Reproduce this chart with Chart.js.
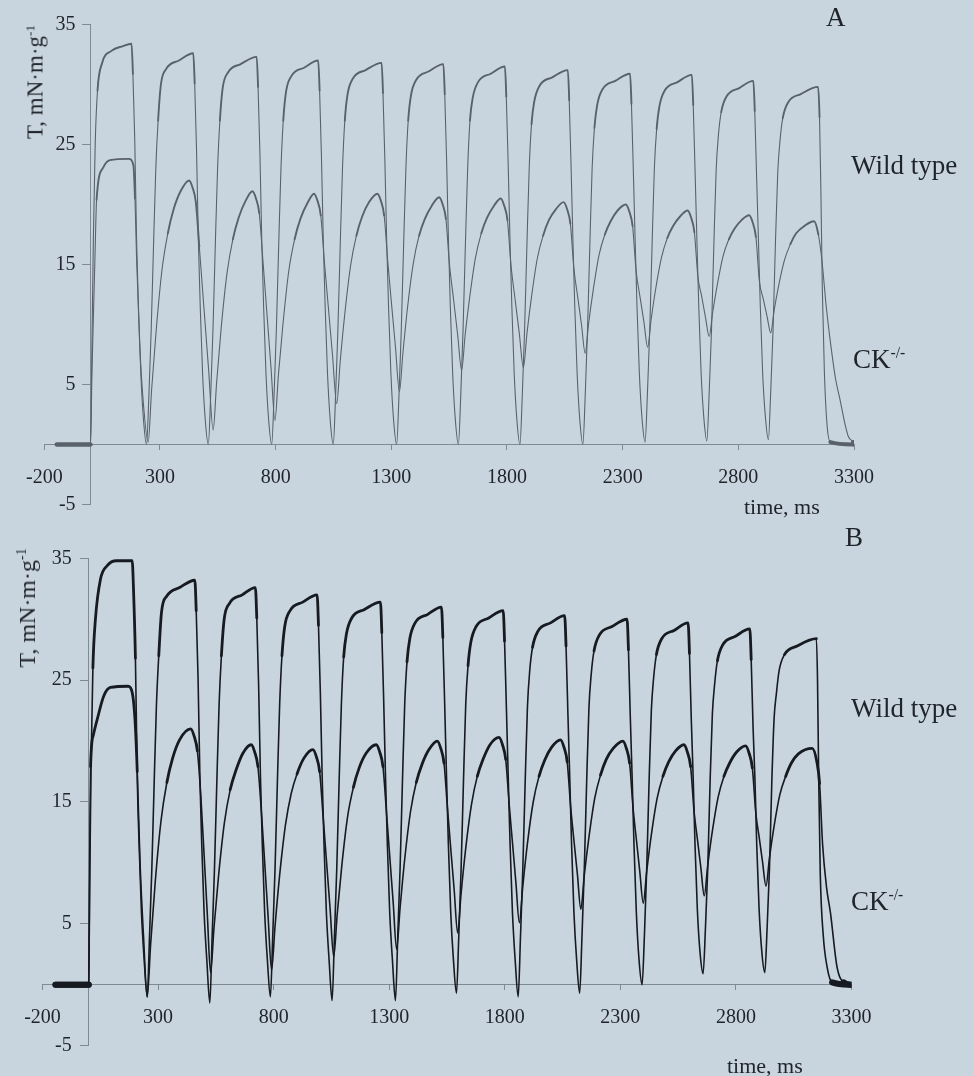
<!DOCTYPE html>
<html>
<head>
<meta charset="utf-8">
<script src="https://cdn.jsdelivr.net/npm/chart.js@4.4.1/dist/chart.umd.min.js"></script>
<style>
  html, body { margin: 0; padding: 0; background: #c9d5de; }
  #page { position: relative; width: 973px; height: 1076px; overflow: hidden; background: #c9d5de;
          font-family: 'Liberation Serif', 'Times New Roman', serif; color: #1f232a; }
  canvas { position: absolute; left: 0; }
  .lbl { position: absolute; white-space: nowrap; line-height: 1; }
  .big { font-size: 27px; }
  .sup { font-size: 0.58em; position: relative; top: -0.62em; }
  .axisT { font-size: 22px; }
</style>
</head>
<body>
<div id="page">
  <canvas id="panelA" width="973" height="530" style="top:0px"></canvas>
  <canvas id="panelB" width="973" height="546" style="top:530px"></canvas>

  <div class="lbl big" style="left:826px; top:4px;">A</div>
  <div class="lbl big" style="left:851px; top:152px;">Wild type</div>
  <div class="lbl big" style="left:853px; top:346px;">CK<span class="sup">-/-</span></div>
  <div class="lbl axisT" style="left:744px; top:496px;">time, ms</div>
  <div class="lbl" style="left:35px; top:82px; font-size:23px; transform: translate(-50%,-50%) rotate(-90deg);">T, mN·m·g<span class="sup">-1</span></div>

  <div class="lbl big" style="left:845px; top:524px;">B</div>
  <div class="lbl big" style="left:851px; top:695px;">Wild type</div>
  <div class="lbl big" style="left:851px; top:888px;">CK<span class="sup">-/-</span></div>
  <div class="lbl axisT" style="left:727px; top:1055px;">time, ms</div>
  <div class="lbl" style="left:27px; top:608px; font-size:24px; transform: translate(-50%,-50%) rotate(-90deg);">T, mN·m·g<span class="sup">-1</span></div>
</div>

<script>
// Axis ticks shared by both panels
const timeTicks = [-200, 300, 800, 1300, 1800, 2300, 2800, 3300];
const tensionTicks = [-5, 5, 15, 25, 35];

// Panel A — [time (ms), tension (mN·m·g⁻¹)]
const wildTypeA = [
  [-147,0],[0,0],
  [5,7],[12,17],[20,25],[30,29.5],[50,31.8],[90,32.8],[140,33.2],[177,33.4],
  [183,30.9],[191,25.4],[199,17],[207,11.5],[217,6],[229,2],[242,0],
  [252,4],[262,9.5],[272,16.5],[282,23],[292,27],[304,30.0],[327,31.3],[382,32.0],[444,32.6],
  [450,30.1],[458,24.6],[466,17],[474,11.5],[484,6],[496,2],[509,0],
  [519,4],[529,9.5],[539,16.5],[549,23],[559,27],[571,29.7],[594,31.0],[649,31.7],[718,32.3],
  [724,29.8],[732,24.3],[740,17],[748,11.5],[758,6],[770,2],[783,0],
  [793,4],[803,9.5],[813,16.5],[823,23],[833,27],[845,29.4],[868,30.7],[923,31.4],[984,32.0],
  [990,29.5],[998,24],[1006,17],[1014,11.5],[1024,6],[1036,2],[1049,0],
  [1059,4],[1069,9.5],[1079,16.5],[1089,23],[1099,27],[1111,29.2],[1134,30.5],[1189,31.2],[1258,31.8],
  [1264,29.3],[1272,23.8],[1280,17],[1288,11.5],[1298,6],[1310,2],[1323,0],
  [1333,4],[1343,9.5],[1353,16.5],[1363,23],[1373,27],[1385,29.1],[1408,30.4],[1463,31.1],[1525,31.7],
  [1531,29.2],[1539,23.7],[1547,17],[1555,11.5],[1565,6],[1577,2],[1590,0],
  [1600,4],[1610,9.5],[1620,16.5],[1630,23],[1640,27],[1652,28.9],[1675,30.2],[1730,30.9],[1791,31.5],
  [1797,29.0],[1805,23.5],[1813,17],[1821,11.5],[1831,6],[1843,2],[1856,0],
  [1866,4],[1876,9.5],[1886,16.5],[1896,23],[1906,26.7],[1918,28.6],[1941,29.9],[1996,30.6],[2063,31.2],
  [2069,28.7],[2077,23.2],[2085,17],[2093,11.5],[2103,6],[2115,2],[2128,0],
  [2138,4],[2148,9.5],[2158,16.5],[2168,23],[2178,26.4],[2190,28.3],[2213,29.6],[2268,30.3],[2332,30.9],
  [2338,28.4],[2346,22.9],[2354,17],[2362,11.5],[2372,6],[2384,2.1],[2397,0.2],
  [2407,4.2],[2417,9.5],[2427,16.5],[2437,23],[2447,26.3],[2459,28.2],[2482,29.5],[2537,30.2],[2599,30.8],
  [2605,28.3],[2613,22.8],[2621,17],[2629,11.5],[2639,6],[2651,2.2],[2664,0.3],
  [2674,4.3],[2684,9.5],[2694,16.5],[2704,22.8],[2714,25.8],[2726,27.7],[2749,29.0],[2804,29.7],[2865,30.3],
  [2871,27.8],[2879,22.3],[2887,17],[2895,11.5],[2905,6],[2917,2.3],[2930,0.4],
  [2940,4.4],[2950,9.5],[2960,16.5],[2970,22.5],[2980,25.3],[2992,27.2],[3015,28.5],[3070,29.2],[3145,29.8],
  [3151,27.3],[3157,21],[3163,13],[3172,6],[3184,1.5],[3198,0.2],[3300,0]
];

const knockoutA = [
  [-147,0],[0,0],
  [6,6],[12,10.5],[19,15.6],[26,20.4],[55,23.1],[84,23.7],[165,23.8],
  [185,23.3],[192,20.5],[199,15.4],[212,8.5],[228,3.5],[249,0.2],
  [264,4.6],[284,9.6],[309,14.6],[334,17.6],[359,19.6],[389,21.1],[426,22.0],
  [441,21.4],[455,20.2],[470,16.5],[490,11.4],[510,6.3],[530,1.2],
  [545,5.2],[565,9.8],[590,14.3],[615,17.1],[640,18.9],[670,20.3],[700,21.1],
  [715,20.5],[729,19.3],[744,15.6],[762,11.0],[780,6.4],[797,2.0],
  [812,5.8],[832,10.1],[857,14.5],[882,17.1],[907,18.8],[937,20.1],[966,20.9],
  [981,20.3],[995,19.1],[1010,15.4],[1028,11.4],[1046,7.4],[1064,3.4],
  [1079,6.9],[1099,10.9],[1124,14.9],[1149,17.4],[1174,19.0],[1204,20.2],[1240,20.9],
  [1255,20.3],[1269,19.1],[1284,15.4],[1301,11.7],[1318,8.1],[1335,4.4],
  [1350,7.6],[1370,11.4],[1395,15.1],[1420,17.4],[1445,18.8],[1475,19.9],[1507,20.6],
  [1522,20.0],[1536,18.8],[1551,15.1],[1569,12.1],[1587,9.1],[1604,6.2],
  [1619,9.1],[1639,12.3],[1664,15.6],[1689,17.6],[1714,18.9],[1744,19.9],[1773,20.5],
  [1788,19.9],[1802,18.7],[1817,15.0],[1835,12.1],[1853,9.3],[1871,6.4],
  [1886,9.2],[1906,12.3],[1931,15.5],[1956,17.4],[1981,18.7],[2011,19.6],[2045,20.2],
  [2060,19.6],[2074,18.4],[2089,14.7],[2105,12.4],[2122,10.0],[2138,7.6],
  [2153,10.1],[2173,12.9],[2198,15.8],[2223,17.5],[2248,18.6],[2278,19.5],[2314,20.0],
  [2329,19.4],[2343,18.2],[2358,14.5],[2375,12.3],[2392,10.2],[2408,8.1],
  [2423,10.4],[2443,13.0],[2468,15.6],[2493,17.2],[2518,18.2],[2548,19.0],[2581,19.5],
  [2596,18.9],[2610,17.7],[2625,14.0],[2641,12.4],[2658,10.6],[2674,9.0],
  [2689,11.0],[2709,13.3],[2734,15.7],[2759,17.1],[2784,18.0],[2814,18.7],[2847,19.1],
  [2862,18.5],[2876,17.3],[2891,13.6],[2907,12.2],[2924,10.7],[2940,9.3],
  [2955,11.2],[2975,13.3],[3000,15.4],[3025,16.7],[3050,17.6],[3085,18.2],[3127,18.6],
  [3146,17.5],[3161,15.4],[3180,11.5],[3197,8.7],[3220,5.5],[3240,3.7],[3260,1.8],[3276,0.65],[3296,0.2],[3300,0]
];

// Panel B — [time (ms), tension (mN·m·g⁻¹)]
const wildTypeB = [
  [-144,0],[0,0],
  [4,8],[10,18],[18,26],[29,30],[51,33.3],[80,34.4],[120,34.8],[188,34.8],
  [194,32.3],[202,26.8],[210,17],[218,11.5],[228,6],[240,2],[253,-1.0],
  [263,4],[273,9.5],[283,16.5],[293,23],[303,27],[315,30.6],[338,31.9],[393,32.6],[459,33.2],
  [465,30.7],[473,25.2],[481,17],[489,11.5],[499,6],[511,2],[524,-1.5],
  [534,4],[544,9.5],[554,16.5],[564,23],[574,27],[586,30.0],[609,31.3],[664,32.0],[721,32.6],
  [727,30.1],[735,24.6],[743,17],[751,11.5],[761,6],[773,2],[786,-1.0],
  [796,4],[806,9.5],[816,16.5],[826,23],[836,27],[848,29.4],[871,30.7],[926,31.4],[988,32.0],
  [994,29.5],[1002,24],[1010,17],[1018,11.5],[1028,6],[1040,2],[1053,-1.3],
  [1063,4],[1073,9.5],[1083,16.5],[1093,23],[1103,26.9],[1115,28.8],[1138,30.1],[1193,30.8],[1262,31.4],
  [1268,28.9],[1276,23.4],[1284,17],[1292,11.5],[1302,6],[1314,2],[1327,-1.3],
  [1337,4],[1347,9.5],[1357,16.5],[1367,23],[1377,26.5],[1389,28.4],[1412,29.7],[1467,30.4],[1526,31.0],
  [1532,28.5],[1540,23],[1548,17],[1556,11.5],[1566,6],[1578,2],[1591,-0.7],
  [1601,4],[1611,9.5],[1621,16.5],[1631,23],[1641,26.2],[1653,28.1],[1676,29.4],[1731,30.1],[1793,30.7],
  [1799,28.2],[1807,22.7],[1815,17],[1823,11.5],[1833,6],[1845,2],[1858,-1.0],
  [1868,4],[1878,9.5],[1888,16.5],[1898,22.8],[1908,25.8],[1920,27.7],[1943,29.0],[1998,29.7],[2059,30.3],
  [2065,27.8],[2073,22.3],[2081,17],[2089,11.5],[2099,6],[2111,2],[2124,-0.7],
  [2134,4],[2144,9.5],[2154,16.5],[2164,22.7],[2174,25.5],[2186,27.4],[2209,28.7],[2264,29.4],[2329,30.0],
  [2335,27.5],[2343,22],[2351,17],[2359,11.5],[2369,6],[2381,2],[2394,0],
  [2404,4],[2414,9.5],[2424,16.5],[2434,22.5],[2444,25.2],[2456,27.1],[2479,28.4],[2534,29.1],[2593,29.7],
  [2599,27.2],[2607,21.7],[2615,17],[2623,11.5],[2633,6.2],[2645,2.6],[2658,0.9],
  [2668,4.6],[2678,9.5],[2688,16.5],[2698,22.2],[2708,24.7],[2720,26.6],[2743,27.9],[2798,28.6],[2860,29.2],
  [2866,26.7],[2874,21.2],[2882,17],[2890,11.5],[2900,6.3],[2912,2.7],[2925,1.0],
  [2935,4.7],[2945,9.5],[2955,16.5],[2965,21.8],[2975,23.9],[2987,25.8],[3010,27.1],[3065,27.8],[3148,28.4],
  [3153,25],[3158,17],[3165,9],[3178,4],[3194,1.5],[3216,0.2],[3300,0]
];

const knockoutB = [
  [-144,0],[0,0],
  [4,10],[8,17.9],[20,20.5],[37,21.8],[65,23.7],[94,24.4],[170,24.5],
  [188,24.0],[200,21.8],[210,17.5],[222,10],[237,4],[253,-1.0],
  [268,3.4],[288,8.5],[313,13.5],[338,16.6],[363,18.6],[393,20.1],[441,21.0],
  [456,20.4],[470,19.2],[485,15.5],[499,10.7],[513,5.8],[527,1.0],
  [542,4.7],[562,9.0],[587,13.3],[612,16.0],[637,17.6],[667,19.0],[703,19.7],
  [718,19.1],[732,17.9],[747,14.2],[762,9.8],[776,5.6],[791,1.2],
  [806,4.8],[826,9.0],[851,13.1],[876,15.7],[901,17.3],[931,18.6],[970,19.3],
  [985,18.7],[999,17.5],[1014,13.8],[1029,10.05],[1044,6.3],[1060,2.3],
  [1075,5.8],[1095,9.8],[1120,13.8],[1145,16.2],[1170,17.8],[1200,19.0],[1244,19.7],
  [1259,19.1],[1273,17.9],[1288,14.2],[1303,10.35],[1317,6.8],[1332,2.9],
  [1347,6.3],[1367,10.3],[1392,14.2],[1417,16.6],[1442,18.1],[1472,19.3],[1508,20.0],
  [1523,19.4],[1537,18.2],[1552,14.5],[1567,11.0],[1581,7.8],[1596,4.25],
  [1611,7.5],[1631,11.2],[1656,14.8],[1681,17.1],[1706,18.5],[1736,19.7],[1775,20.3],
  [1790,19.7],[1804,18.5],[1819,14.8],[1834,11.5],[1848,8.4],[1863,5.1],
  [1878,8.1],[1898,11.6],[1923,15.0],[1948,17.1],[1973,18.45],[2003,19.5],[2041,20.1],
  [2056,19.5],[2070,18.3],[2085,14.6],[2100,11.7],[2114,9.1],[2129,6.2],
  [2144,9.0],[2164,12.1],[2189,15.3],[2214,17.2],[2239,18.5],[2269,19.4],[2311,20.0],
  [2326,19.4],[2340,18.2],[2355,14.5],[2370,11.8],[2384,9.3],[2399,6.7],
  [2414,9.3],[2434,12.3],[2459,15.3],[2484,17.1],[2509,18.3],[2539,19.2],[2575,19.7],
  [2590,19.1],[2604,17.9],[2619,14.2],[2634,11.85],[2648,9.65],[2663,7.3],
  [2678,9.8],[2698,12.6],[2723,15.4],[2748,17.1],[2773,18.2],[2803,19.1],[2842,19.6],
  [2857,19.0],[2871,17.8],[2886,14.1],[2901,12.05],[2915,10.1],[2930,8.1],
  [2945,10.4],[2965,13.0],[2990,15.6],[3015,17.1],[3040,18.2],[3070,18.95],[3130,19.4],
  [3150,18.3],[3162,16.5],[3175,11.5],[3192,8],[3209,5.9],[3237,1.5],[3266,0.2],[3300,0]
];

const FONT = "'Liberation Serif', 'Times New Roman', serif";
const TEXT_COLOR = '#1f232a';

function toPoints(pairs) {
  return pairs.map(([x, y]) => ({ x, y }));
}

// The y axis sits at t = 0; its labels are moved left of the tick marks.
const yLabelShift = {
  id: 'yLabelShift',
  beforeDraw(chart) {
    const scale = chart.scales.y;
    const items = scale.getLabelItems();
    if (items._shifted) return;
    const shift = scale.options.grid.tickLength + scale.options.ticks.padding;
    items.forEach(item => { item.options.translation[0] -= shift; });
    items._shifted = true;
  }
};

// Resting baseline before the first and after the last tetanus is drawn as a thicker noisy band;
// the noisy plateau of each contraction is drawn slightly heavier.
function traceDataset(label, pairs, color, style, tailStart, plateauFrom) {
  return {
    label,
    data: toPoints(pairs),
    borderColor: color,
    borderWidth: style.width,
    borderCapStyle: 'round',
    borderJoinStyle: 'round',
    pointRadius: 0,
    fill: false,
    cubicInterpolationMode: 'monotone',
    segment: {
      borderWidth: ctx => {
        if (ctx.p1.parsed.x <= 0 || ctx.p0.parsed.x >= tailStart) return style.band;
        if (Math.min(ctx.p0.parsed.y, ctx.p1.parsed.y) >= plateauFrom) return style.plateau;
        return style.width;
      }
    }
  };
}

function makePanel(canvasId, wild, knockout, style) {
  const axisColor = style.axis;
  return new Chart(document.getElementById(canvasId), {
    type: 'line',
    data: {
      datasets: [
        traceDataset('Wild type', wild, style.line, style, style.wildTail, 26),
        traceDataset('CK-/-', knockout, style.line, style, style.koTail, 16)
      ]
    },
    plugins: [yLabelShift],
    options: {
      responsive: false,
      animation: false,
      devicePixelRatio: 1,
      events: [],
      layout: { padding: style.padding },
      plugins: { legend: { display: false }, tooltip: { enabled: false }, title: { display: false } },
      scales: {
        x: {
          type: 'linear',
          min: -200, max: 3300,
          position: { y: 0 },
          afterBuildTicks: scale => { scale.ticks = timeTicks.map(v => ({ value: v })); },
          ticks: {
            autoSkip: false, maxRotation: 0, minRotation: 0,
            padding: 16, color: TEXT_COLOR,
            font: { family: FONT, size: 20 },
            callback: v => String(v)
          },
          grid: { display: true, drawOnChartArea: false, drawTicks: true, tickLength: 5, color: axisColor, lineWidth: 1 },
          border: { display: true, color: axisColor, width: 1 }
        },
        y: {
          type: 'linear',
          min: -5, max: 35,
          position: { x: 0 },
          afterBuildTicks: scale => { scale.ticks = tensionTicks.map(v => ({ value: v })); },
          ticks: {
            padding: style.yPad, color: TEXT_COLOR,
            font: { family: FONT, size: 20 },
            callback: v => String(v)
          },
          grid: { display: true, drawOnChartArea: false, drawTicks: true, tickLength: 8, color: axisColor, lineWidth: 1 },
          border: { display: true, color: axisColor, width: 1 }
        }
      }
    }
  });
}

makePanel('panelA', wildTypeA, knockoutA, {
  line: '#59626b', width: 1.1, plateau: 1.9, band: 4, axis: '#7f8a93',
  wildTail: 3198, koTail: 3296, yPad: 7,
  padding: { left: 44.3, right: 119, top: 24.5, bottom: 25.5 }
});

makePanel('panelB', wildTypeB, knockoutB, {
  line: '#161a21', width: 1.6, plateau: 2.8, band: 6, axis: '#7f8a93',
  wildTail: 3216, koTail: 3266, yPad: 9,
  padding: { left: 42.5, right: 121.5, top: 28.3, bottom: 30.3 }
});
</script>
</body>
</html>
